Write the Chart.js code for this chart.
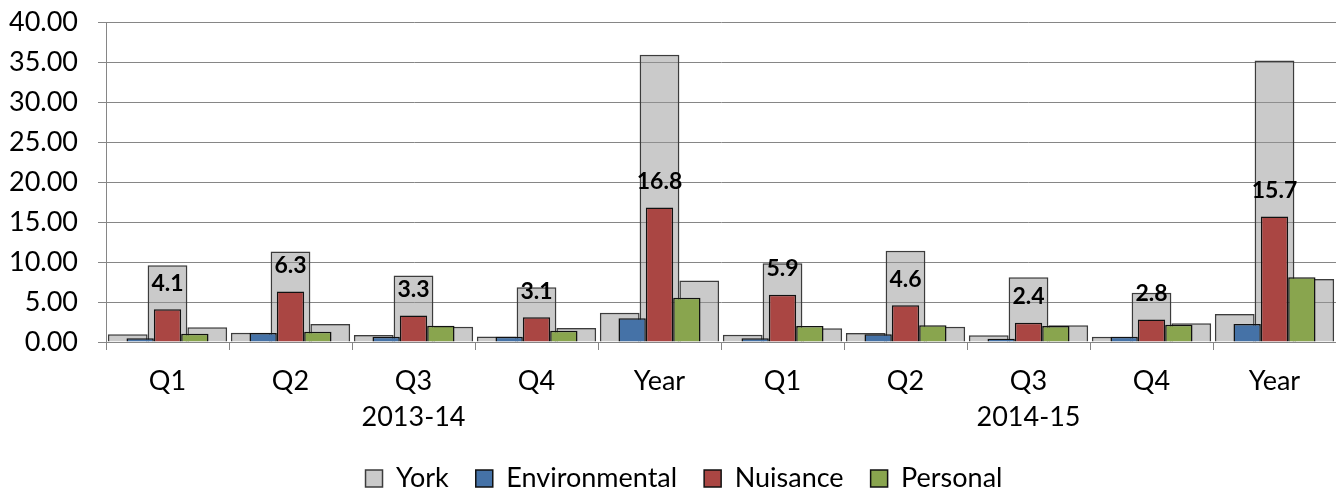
<!DOCTYPE html>
<html>
<head>
<meta charset="utf-8">
<script src="https://cdn.jsdelivr.net/npm/chart.js@4.4.1/dist/chart.umd.min.js"></script>
<style>
  html, body { margin: 0; padding: 0; background: #fff; }
</style>
</head>
<body>
<canvas id="myChart" width="1336" height="493"></canvas>
<script>
// categories
const quarters = ["Q1", "Q2", "Q3", "Q4", "Year", "Q1", "Q2", "Q3", "Q4", "Year"]
const years = ["2013-14", "2014-15"]

// colored series
const environmental = [0.46, 1.12, 0.67, 0.67, 2.96, 0.46, 0.96, 0.42, 0.67, 2.25]
const nuisance = [4.1, 6.3, 3.3, 3.1, 16.8, 5.9, 4.6, 2.4, 2.8, 15.7]
const personal = [1.04, 1.29, 2.04, 1.42, 5.54, 2.0, 2.08, 2.0, 2.17, 8.08]

// York comparison (grey bars behind)
const yorkEnvironmental = [0.96, 1.16, 0.87, 0.7, 3.67, 0.92, 1.12, 0.83, 0.67, 3.5]
const yorkNuisance = [9.6, 11.3, 8.3, 6.83, 35.9, 9.83, 11.4, 8.08, 6.17, 35.2]
const yorkPersonal = [1.84, 2.25, 1.92, 1.75, 7.7, 1.71, 1.92, 2.08, 2.33, 7.87]

const yTicks = [0, 5, 10, 15, 20, 25, 30, 35, 40]

const FONT = "Lato"
const gridGrey = "#868686"
const yorkFill = "rgba(150,150,150,0.5)"
const yorkBorder = "#3c3c3c"

// own bar type so the grey York bars get grouped apart from the colored ones
class YorkBarController extends Chart.BarController {
  static id = "yorkBar"
  static defaults = Chart.BarController.defaults
}
Chart.register(YorkBarController)

function yorkSet(label, data) {
  return {
    type: "yorkBar",
    label: label,
    data: data,
    backgroundColor: yorkFill,
    borderColor: yorkBorder,
    borderWidth: 1.5,
    categoryPercentage: 0.97,
    barPercentage: 1,
    order: 2
  }
}
function mainSet(label, data, color) {
  return {
    label: label,
    data: data,
    backgroundColor: color,
    borderColor: "#111",
    borderWidth: 1.5,
    categoryPercentage: 0.667,
    barPercentage: 1,
    order: 1
  }
}

// nuisance value labels + year group labels
const extraText = {
  id: "extraText",
  afterLayout(chart) {
    // legend sits a bit right of centre in the original
    chart.legend.left += 16
    chart.legend.right += 16
  },
  afterDatasetsDraw(chart) {
    const ctx = chart.ctx
    const meta = chart.getDatasetMeta(4)
    ctx.save()
    ctx.font = "bold 23px " + FONT
    ctx.fillStyle = "#000"
    ctx.textAlign = "center"
    ctx.textBaseline = "middle"
    meta.data.forEach((bar, i) => {
      ctx.fillText(nuisance[i].toFixed(1), bar.x, bar.y - 26)
    })
    ctx.restore()
  },
  afterDraw(chart) {
    const ctx = chart.ctx
    const xs = chart.scales.x
    ctx.save()
    ctx.font = "27px " + FONT
    ctx.fillStyle = "#000"
    ctx.textAlign = "center"
    ctx.textBaseline = "middle"
    years.forEach((yr, g) => {
      const a = xs.getPixelForValue(g * 5)
      const b = xs.getPixelForValue(g * 5 + 4)
      ctx.fillText(yr, (a + b) / 2, 417)
    })
    ctx.restore()
  }
}

const chart = new Chart("myChart", {
  type: "bar",
  data: {
    labels: quarters,
    datasets: [
      yorkSet("York", yorkEnvironmental),
      yorkSet("York Nuisance", yorkNuisance),
      yorkSet("York Personal", yorkPersonal),
      mainSet("Environmental", environmental, "#4572A7"),
      mainSet("Nuisance", nuisance, "#AA4643"),
      mainSet("Personal", personal, "#89A54E")
    ]
  },
  options: {
    responsive: false,
    animation: false,
    devicePixelRatio: 1,
    layout: { padding: { top: 22, left: 0, right: 0, bottom: -9 } },
    plugins: {
      tooltip: { enabled: false },
      legend: {
        position: "bottom",
        labels: {
          font: { family: FONT, size: 27 },
          color: "#000",
          boxWidth: 17,
          boxHeight: 17,
          padding: 27,
          filter: (item) => item.datasetIndex === 0 || item.datasetIndex > 2,
          sort: (a, b) => a.datasetIndex - b.datasetIndex
        }
      }
    },
    scales: {
      x: {
        offset: true,
        grid: { offset: true, drawOnChartArea: false, drawTicks: true, tickLength: 8, color: gridGrey },
        border: { color: gridGrey },
        ticks: { font: { family: FONT, size: 27 }, color: "#000", padding: 15, maxRotation: 0, autoSkip: false },
        afterFit(scale) { scale.height = 96 }
      },
      y: {
        min: 0,
        max: 40,
        afterBuildTicks(scale) { scale.ticks = yTicks.map(v => ({ value: v })) },
        grid: { color: gridGrey, lineWidth: 1, tickLength: 8 },
        border: { color: gridGrey },
        ticks: {
          font: { family: FONT, size: 27 },
          color: "#000",
          padding: 20,
          callback: (v) => Number(v).toFixed(2)
        },
        afterFit(scale) {
          scale.width = 106
          scale.paddingTop = 0
        }
      }
    }
  },
  plugins: [extraText]
})
</script>
</body>
</html>
